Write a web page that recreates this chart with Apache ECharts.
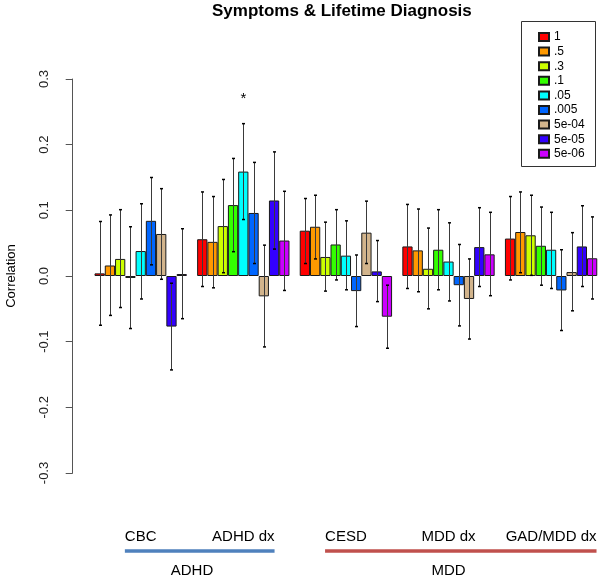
<!DOCTYPE html>
<html>
<head>
<meta charset="utf-8">
<script src="https://cdn.jsdelivr.net/npm/echarts@6/dist/echarts.min.js"></script>
<style>
  html, body { margin: 0; padding: 0; background: #fff; }
  #main { width: 601px; height: 578px; }
</style>
</head>
<body>
<div id="main"></div>
<script>
// measures on the x axis, p-value thresholds as series
const measures   = ['CBC', 'ADHD dx', 'CESD', 'MDD dx', 'GAD/MDD dx']
const thresholds = ['1', '.5', '.3', '.1', '.05', '.005', '5e-04', '5e-05', '5e-06']
const colors     = ['#FF0000', '#FF9900', '#CCFF00', '#33FF00', '#00FFFF', '#0066FF', '#D2B48C', '#3300FF', '#CC00FF']
const yTicks     = [-0.3, -0.2, -0.1, 0.0, 0.1, 0.2, 0.3]

// correlation estimate, one row per threshold (order of measures)
const corr = [
  [ 0.004,  0.056,  0.069,  0.045,  0.057],
  [ 0.016,  0.052,  0.075,  0.039,  0.067],
  [ 0.026,  0.076,  0.029,  0.011,  0.062],
  [-0.003,  0.108,  0.048,  0.040,  0.046],
  [ 0.038,  0.159,  0.031,  0.022,  0.040],
  [ 0.084,  0.096, -0.023, -0.014, -0.022],
  [ 0.064, -0.031,  0.066, -0.035,  0.006],
  [-0.077,  0.115,  0.007,  0.044,  0.045],
  [ 0.003,  0.054, -0.062,  0.033,  0.027]
]
const ciLow = [
  [-0.075, -0.016,  0.019, -0.019, -0.006],
  [-0.060, -0.018,  0.026, -0.024,  0.005],
  [-0.048,  0.005, -0.023, -0.050,  0.001],
  [-0.080,  0.037, -0.006, -0.021, -0.014],
  [-0.035,  0.086, -0.021, -0.038, -0.019],
  [ 0.017,  0.019, -0.077, -0.076, -0.083],
  [-0.005, -0.108,  0.019, -0.096, -0.053],
  [-0.143,  0.041, -0.039, -0.016, -0.016],
  [-0.065, -0.022, -0.110, -0.030, -0.035]
]
const ciHigh = [
  [ 0.083,  0.128,  0.118,  0.109,  0.121],
  [ 0.093,  0.121,  0.123,  0.102,  0.128],
  [ 0.101,  0.147,  0.082,  0.073,  0.123],
  [ 0.075,  0.179,  0.101,  0.101,  0.105],
  [ 0.110,  0.232,  0.084,  0.081,  0.097],
  [ 0.150,  0.173,  0.032,  0.048,  0.040],
  [ 0.133,  0.047,  0.114,  0.026,  0.066],
  [-0.011,  0.189,  0.054,  0.104,  0.107],
  [ 0.072,  0.129, -0.014,  0.097,  0.090]
]
// significance marker: [measure index, threshold index, y position]
const stars = [[1, 4, 0.27]]

// domain brackets under the axis
const domains       = ['ADHD', 'MDD']
const domainMembers = [[0, 1], [2, 3, 4]]
const domainColors  = ['#4F81BD', '#C0504D']

const FONT = "'Liberation Sans', Arial, sans-serif"
const chart = echarts.init(document.getElementById('main'))

function barX(api, cat, k) {
  const band = api.size([1, 0])[0]
  const bw = band * 0.9 / thresholds.length
  return api.coord([cat, 0])[0] + (k - (thresholds.length - 1) / 2) * bw
}

const errData = []
thresholds.forEach((t, i) => {
  measures.forEach((m, j) => errData.push([j, i, ciLow[i][j], ciHigh[i][j]]))
})

const barSeries = thresholds.map((t, i) => ({
  name: t,
  type: 'bar',
  data: corr[i],
  barGap: '0%',
  barCategoryGap: '10%',
  itemStyle: { color: colors[i], borderColor: '#1a1a1a', borderWidth: 1 },
  emphasis: { disabled: true },
  z: 2
}))

chart.setOption({
  animation: false,
  textStyle: { fontFamily: FONT },
  title: {
    text: 'Symptoms & Lifetime Diagnosis',
    left: 207, top: -2,
    textStyle: { fontSize: 17, fontWeight: 'bold', color: '#000', fontFamily: FONT }
  },
  legend: {
    data: thresholds,
    orient: 'vertical',
    left: 533, top: 25,
    itemWidth: 10, itemHeight: 8, itemGap: 0.6,
    icon: 'rect',
    selectedMode: false,
    textStyle: { fontSize: 12, lineHeight: 14, color: '#000' }
  },
  grid: { left: 89.4, top: 79, width: 513, height: 394, outerBoundsMode: 'none', containLabel: false },
  xAxis: {
    type: 'category',
    data: measures,
    axisLine: { show: false },
    axisTick: { show: false },
    axisLabel: { margin: 56, fontSize: 15, color: '#000', interval: 0 }
  },
  yAxis: {
    type: 'value',
    min: -0.3, max: 0.3, interval: 0.1,
    offset: 16.7,
    name: 'Correlation',
    nameLocation: 'middle',
    nameGap: 55,
    nameRotate: 90,
    nameTextStyle: { fontSize: 13, color: '#000' },
    axisLine: { show: true, lineStyle: { color: '#555' } },
    axisTick: { show: true, length: 7, lineStyle: { color: '#555' } },
    axisLabel: {
      rotate: 90, margin: 22, fontSize: 13, color: '#222',
      formatter: v => yTicks.some(t => Math.abs(t - v) < 1e-9) ? v.toFixed(1) : ''
    },
    splitLine: { show: false }
  },
  series: [
    ...barSeries,
    {
      type: 'custom',
      name: 'ci',
      data: errData,
      encode: { x: 0, y: [2, 3] },
      z: 5,
      silent: true,
      renderItem: (params, api) => {
        const x = Math.round(barX(api, api.value(0), api.value(1))) + 0.5
        const y1 = api.coord([api.value(0), api.value(2)])[1]
        const y2 = api.coord([api.value(0), api.value(3)])[1]
        const st = { stroke: '#3a3a3a', lineWidth: 1 }
        return {
          type: 'group',
          children: [
            { type: 'line', shape: { x1: x, y1: y1, x2: x, y2: y2 }, style: st },
            { type: 'line', shape: { x1: x - 1.5, y1: y1, x2: x + 1.5, y2: y1 }, style: { stroke: '#000', lineWidth: 1.5 } },
            { type: 'line', shape: { x1: x - 1.5, y1: y2, x2: x + 1.5, y2: y2 }, style: { stroke: '#000', lineWidth: 1.5 } }
          ]
        }
      }
    },
    {
      type: 'custom',
      name: 'sig',
      data: stars,
      encode: { x: 0, y: 2 },
      z: 5,
      silent: true,
      renderItem: (params, api) => {
        const x = barX(api, api.value(0), api.value(1))
        const y = api.coord([api.value(0), api.value(2)])[1]
        return {
          type: 'text',
          style: { x: x, y: y, text: '*', fontSize: 15, fontFamily: FONT, fill: '#000', align: 'center', verticalAlign: 'middle' }
        }
      }
    }
  ]
})

// domain brackets and legend frame, placed from the axis
const measureCtx = document.createElement('canvas').getContext('2d')
measureCtx.font = '15px ' + FONT
const centreOf = i => chart.convertToPixel({ xAxisIndex: 0 }, measures[i])
const graphics = []
domains.forEach((d, k) => {
  const mem = domainMembers[k]
  const first = mem[0], last = mem[mem.length - 1]
  const x1 = centreOf(first) - measureCtx.measureText(measures[first]).width / 2
  const x2 = centreOf(last) + measureCtx.measureText(measures[last]).width / 2
  const mid = mem.reduce((s, i) => s + centreOf(i), 0) / mem.length
  graphics.push({
    type: 'line', silent: true,
    shape: { x1: x1, y1: 551, x2: x2, y2: 551 },
    style: { stroke: domainColors[k], lineWidth: 3.5 }
  })
  graphics.push({
    type: 'text', silent: true,
    x: mid, y: 571,
    style: { text: d, fontSize: 15, fontFamily: FONT, fill: '#000', align: 'center', verticalAlign: 'middle' }
  })
})
graphics.push({
  type: 'rect', silent: true,
  shape: { x: 521.5, y: 21.5, width: 74, height: 145 },
  style: { fill: 'none', stroke: '#333', lineWidth: 1 }
})
chart.setOption({ graphic: graphics })

window.addEventListener('resize', () => chart.resize())
</script>
</body>
</html>
